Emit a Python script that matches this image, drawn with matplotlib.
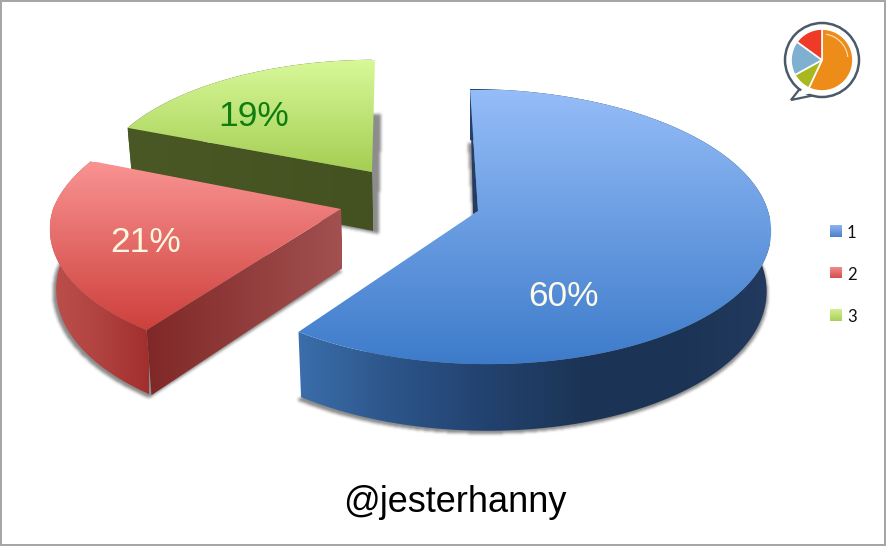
import numpy as np
import matplotlib
matplotlib.use("Agg")
import matplotlib.pyplot as plt
from matplotlib.patches import Polygon, Rectangle, Circle, Wedge
from matplotlib.path import Path
from matplotlib.colors import LinearSegmentedColormap

# ---- data ----
labels = ["1", "2", "3"]
values = [60, 21, 19]
percent_labels = ["60%", "21%", "19%"]
caption = "@jesterhanny"
logo_values = [57, 10, 18, 15]
logo_colors = ["#ee8c1a", "#a9b81e", "#7fb0d0", "#f03a28"]

# ---- style ----
apex = [(478, 211), (341, 209), (372, 172)]
scale = [1.0, 1.0, 0.92]
skew_front = [10, -10, 0]
skew_back = [-8, 20, 3]
rxs = [290, 288, 299]
top_stops = [["#95bdf8", "#3d7bca"], ["#f99392", "#cd3f3b"], ["#d8f899", "#a4ce53"]]
top_span = [(90, 365), (162, 332), (60, 172)]
side_stops = [
    ["#3b6eab", "#2c5589", "#22426f", "#1c3556", "#1b3354", "#223a5e"],
    ["#bd4f4b", "#b04240", "#a12f2d"],
    ["#4c5a28", "#46551f"],
]
side_span = [(297, 770), (50, 149), (127, 372)]
inner_stops = [["#27406a", "#1f3a60"], ["#802828", "#a25150"], ["#4a5826", "#435220"]]
label_pos = [(564, 297), (146, 243), (254, 116)]
label_colors = ["#fffbea", "#fff8e0", "#0f7d0f"]
legend_y = [231, 272.5, 315]
legend_stops = [["#8fb6ee", "#4a80cc"], ["#f29090", "#d34f4c"], ["#d4f092", "#a8cf5a"]]
shadow_off = [(-2, 3), (0, 3), (5, 3)]
shadow_scale = [1.012, 1.012, 1.0]
K, RY, DEPTH, VX = 0.113, 135.8, 59.0, 470.0

W, H = 886, 546
fig = plt.figure(figsize=(W / 100, H / 100), dpi=100, facecolor="white")
ax = fig.add_axes([0, 0, 1, 1])
ax.set_xlim(0, W)
ax.set_ylim(H, 0)
ax.axis("off")
ax.set_autoscale_on(False)


def project(i, theta):
    """Perspective projection of rim points; theta clockwise from 12 o'clock (deg)."""
    t = np.radians(theta)
    a, b = np.sin(t), np.cos(t)
    den = 1 + K * b
    x = (apex[i][0] + scale[i] * rxs[i] * a / den
         + skew_front[i] * np.maximum(0, -b) + skew_back[i] * np.maximum(0, b))
    y = apex[i][1] - scale[i] * RY * b / den
    return x, y


def drop(x, y, b=0.0):
    d = DEPTH * (1 - 0.13 * b)
    return VX + (x - VX) * 0.985, y + d


def grad(poly, stops, span, horizontal, z):
    cmap = LinearSegmentedColormap.from_list("g", stops)
    arr = np.linspace(0, 1, 256)
    arr = arr[None, :] if horizontal else arr[:, None]
    ext = (span[0], span[1], H, 0) if horizontal else (0, W, span[1], span[0])
    p = Polygon(poly, closed=True, transform=ax.transData, fc="none", ec="none")
    ax.add_patch(p)
    im = ax.imshow(arr, cmap=cmap, aspect="auto", extent=ext, zorder=z,
                   interpolation="bilinear", vmin=0, vmax=1)
    im.set_clip_path(p)


def blur(a, n, passes=3):
    k = np.ones(n) / n
    for _ in range(passes):
        a = np.apply_along_axis(lambda r: np.convolve(r, k, mode="same"), 0, a)
        a = np.apply_along_axis(lambda r: np.convolve(r, k, mode="same"), 1, a)
    return a


XX, YY = np.meshgrid(np.arange(W) + 0.5, np.arange(H) + 0.5)
GRID = np.c_[XX.ravel(), YY.ravel()]


def shadow(poly, i, z):
    pts = np.asarray(poly, float).copy()
    pts[:, 0] = apex[i][0] + (pts[:, 0] - apex[i][0]) * shadow_scale[i]
    pts += np.asarray(shadow_off[i])
    m = Path(pts).contains_points(GRID).reshape(H, W).astype(float)
    m = blur(m, 3)
    rgba = np.zeros((H, W, 4))
    rgba[..., :3] = 0.25
    rgba[..., 3] = m * 0.6
    ax.imshow(rgba, extent=(0, W, H, 0), aspect="auto", zorder=z, interpolation="nearest")


fracs = np.array(values, float) / sum(values)
edges = np.concatenate([[0], np.cumsum(fracs)]) * 360.0

# draw order: back wedge first
for order, i in enumerate([2, 1, 0]):
    z = 2 + order * 5
    th = np.linspace(edges[i], edges[i + 1], 160)
    tx, ty = project(i, th)
    b = np.cos(np.radians(th))
    bx, by = drop(tx, ty, b)
    ax0, ay0 = apex[i]
    bax, bay = drop(ax0, ay0, 0)
    top = np.c_[np.r_[ax0, tx], np.r_[ay0, ty]]
    outer = np.c_[np.r_[tx, bx[::-1]], np.r_[ty, by[::-1]]]
    footprint = np.c_[np.r_[bax, bx], np.r_[bay, by]]
    shadow(footprint, i, z)
    grad(outer, side_stops[i], side_span[i], True, z + 1)
    if i == 0:
        # thin sliver of the cut face seen at 12 o'clock
        cut = [(ax0, ay0), (tx[0], ty[0]), (ax0 - 5, ay0 + 3)]
    else:
        cut = [(ax0, ay0), (tx[0], ty[0]), (bx[0], by[0]), (bax, bay)]
    xs = sorted([ax0, tx[0]])
    grad(cut, inner_stops[i], xs, True, z + 2)
    grad(top, top_stops[i], top_span[i], False, z + 3)
    ax.text(*label_pos[i], percent_labels[i], color=label_colors[i], fontsize=25.5,
            family="Liberation Sans", ha="center", va="center", zorder=30)

# caption
ax.text(455, 512, caption, fontsize=26, family="Liberation Sans", color="black",
        ha="center", va="baseline", zorder=30)

# legend
for lab, y, st in zip(labels, legend_y, legend_stops):
    s = [(830, y - 6), (842, y - 6), (842, y + 6), (830, y + 6)]
    grad(s, st, (y - 6, y + 6), False, 25)
    ax.text(847, y + 2, lab, fontsize=12, family="Lato", color="#111111",
            ha="left", va="center", zorder=30)

# logo: speech-bubble pie
cx, cy = 822, 60
ax.add_patch(Polygon([(791, 100), (802, 86), (815, 95)], closed=True, fc="white",
                     ec="#4a5a68", lw=1.6, zorder=26))
ax.add_patch(Circle((cx, cy), 37, fc="white", ec="#4a5a68", lw=1.8, zorder=27))
ax.add_patch(Polygon([(796, 97), (803, 88), (812, 93)], closed=True, fc="white", ec="none", zorder=27.5))
start = 0.0
tot = float(sum(logo_values))
for v, c in zip(logo_values, logo_colors):
    end = start + v / tot * 360
    # y axis is inverted: wedge angles run clockwise on screen
    ax.add_patch(Wedge((cx, cy), 31, start - 90, end - 90, fc=c, ec="white", lw=1.2, zorder=28))
    start = end
ang = np.radians(np.linspace(-80, -8, 40))
ax.plot(cx + 26 * np.cos(ang), cy + 26 * np.sin(ang), color="#fbe3c0", lw=0.8, zorder=29)

# frame
ax.add_patch(Rectangle((1, 1), W - 2, H - 2, fc="none", ec="#a6a6a6", lw=1.44, zorder=40))

fig.savefig("out.png", dpi=100, facecolor="white")
